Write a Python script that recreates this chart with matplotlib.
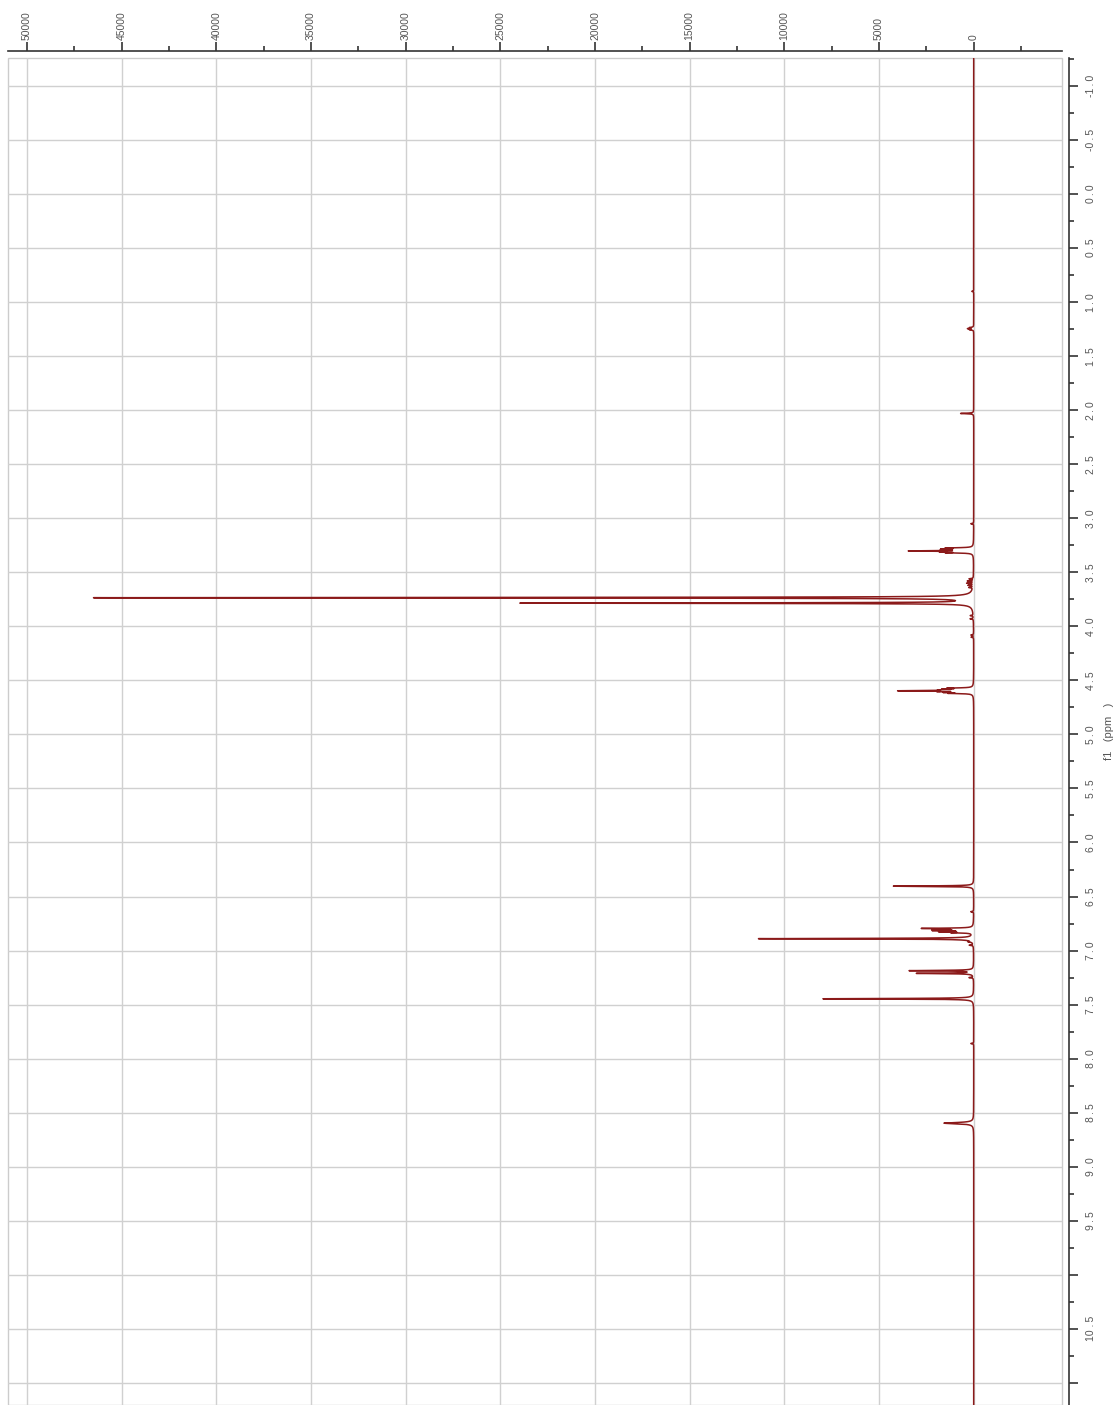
import numpy as np
import matplotlib
matplotlib.use("Agg")
import matplotlib.pyplot as plt
from matplotlib.ticker import MultipleLocator
from matplotlib.patches import Rectangle

# 1H NMR peak table: shift (ppm), height, half width (ppm)
peak_ppm = [3.735, 3.785, 3.302, 3.275, 3.283, 3.291, 3.311, 3.319,
            4.596, 4.572, 4.580, 4.588, 4.604, 4.612, 4.620,
            6.404, 6.795, 6.805, 6.815, 6.826, 6.835, 6.890,
            7.186, 7.211, 7.446, 8.597,
            0.90, 1.235, 1.245, 1.255, 2.030, 3.05, 3.56, 3.58, 3.60, 3.62, 3.64,
            3.90, 3.93, 4.08, 4.10, 6.64, 6.92, 6.95, 7.25, 7.86]
peak_height = [46400, 23800, 3150, 1250, 1330, 1300, 1300, 1220,
               3600, 1150, 1250, 1200, 1250, 1170, 1100,
               4240, 2550, 1800, 1850, 1550, 950, 11350,
               3370, 2980, 7960, 1570,
               100, 200, 300, 200, 690, 150, 220, 300, 330, 260, 200,
               150, 170, 140, 130, 150, 180, 200, 220, 150]
peak_hw = [0.003] * 25 + [0.007] + [0.003] * 20

int_ticks = [50000, 45000, 40000, 35000, 30000, 25000, 20000, 15000, 10000, 5000, 0]
int_labels = ["50000", "45000", "40000", "35000", "30000", "25000",
              "20000", "15000", "10000", "5000", "0"]
ppm_ticks = [-1.0, -0.5, 0.0, 0.5, 1.0, 1.5, 2.0, 2.5, 3.0, 3.5, 4.0, 4.5, 5.0,
             5.5, 6.0, 6.5, 7.0, 7.5, 8.0, 8.5, 9.0, 9.5, 10.0, 10.5, 11.0]
ts = "\u2009"
ppm_labels = [f"-1{ts}.{ts}0", f"-0{ts}.{ts}5", f"0{ts}.{ts}0", f"0{ts}.{ts}5",
              f"1{ts}.{ts}0", f"1{ts}.{ts}5", f"2{ts}.{ts}0", f"2{ts}.{ts}5",
              f"3{ts}.{ts}0", f"3{ts}.{ts}5", f"4{ts}.{ts}0", f"4{ts}.{ts}5",
              f"5{ts}.{ts}0", f"5{ts}.{ts}5", f"6{ts}.{ts}0", f"6{ts}.{ts}5",
              f"7{ts}.{ts}0", f"7{ts}.{ts}5", f"8{ts}.{ts}0", f"8{ts}.{ts}5",
              f"9{ts}.{ts}0", f"9{ts}.{ts}5", "", f"10 .{ts}5", ""]

# build the spectrum as a sum of lorentzians
ppm = np.arange(-1.3, 11.3, 0.0002)
spec = np.zeros_like(ppm)
for p, h, w in zip(peak_ppm, peak_height, peak_hw):
    spec += h * w**2 / ((ppm - p)**2 + w**2)

plt.rcParams['font.family'] = ['Liberation Sans', 'DejaVu Sans']
tick_col = '#555555'
fs = 7.5

fig = plt.figure(figsize=(11.19, 14.05), dpi=100, facecolor='w')
ax = fig.add_axes([8/1119, 0, 1054/1119, 1347/1405])

ax.plot(spec, ppm, color='#8b1a1a', lw=1.1, zorder=3)

ax.set_xlim(51003, -4664)
ax.set_ylim(11.205, -1.259)

ax.xaxis.tick_top()
ax.yaxis.tick_right()
ax.yaxis.set_label_position('right')
for s in ['left', 'bottom']:
    ax.spines[s].set_visible(False)
for s in ['top', 'right']:
    ax.spines[s].set_position(('outward', 5))
    ax.spines[s].set_color('#333333')
    ax.spines[s].set_linewidth(1.2)

ax.set_xticks(int_ticks)
ax.set_xticklabels(int_labels, rotation=90)
ax.xaxis.set_minor_locator(MultipleLocator(2500))
ax.set_yticks(ppm_ticks)
ax.set_yticklabels(ppm_labels, rotation=90, va='center')
ax.yaxis.set_minor_locator(MultipleLocator(0.25))

ax.tick_params(axis='x', which='major', length=6.5, width=1.2, pad=1.5,
               labelsize=fs, labelcolor=tick_col, color='#333333')
ax.tick_params(axis='y', which='major', length=6.5, width=1.2, pad=5.5,
               labelsize=fs, labelcolor=tick_col, color='#333333')
ax.tick_params(which='minor', length=3.5, width=1.2, color='#333333')

ax.grid(True, which='major', color='#d0d0d0', lw=1.0, zorder=0)
ax.add_patch(Rectangle((0, 0), 1, 1, transform=ax.transAxes, fill=False,
                       ec='#cccccc', lw=1.0, clip_on=False, zorder=1))

ax.set_ylabel('f1   (ppm   )', fontsize=fs + 0.5, color=tick_col, rotation=90)
ax.yaxis.set_label_coords(1.040, 0.5)

plt.savefig('out.png', dpi=100)
